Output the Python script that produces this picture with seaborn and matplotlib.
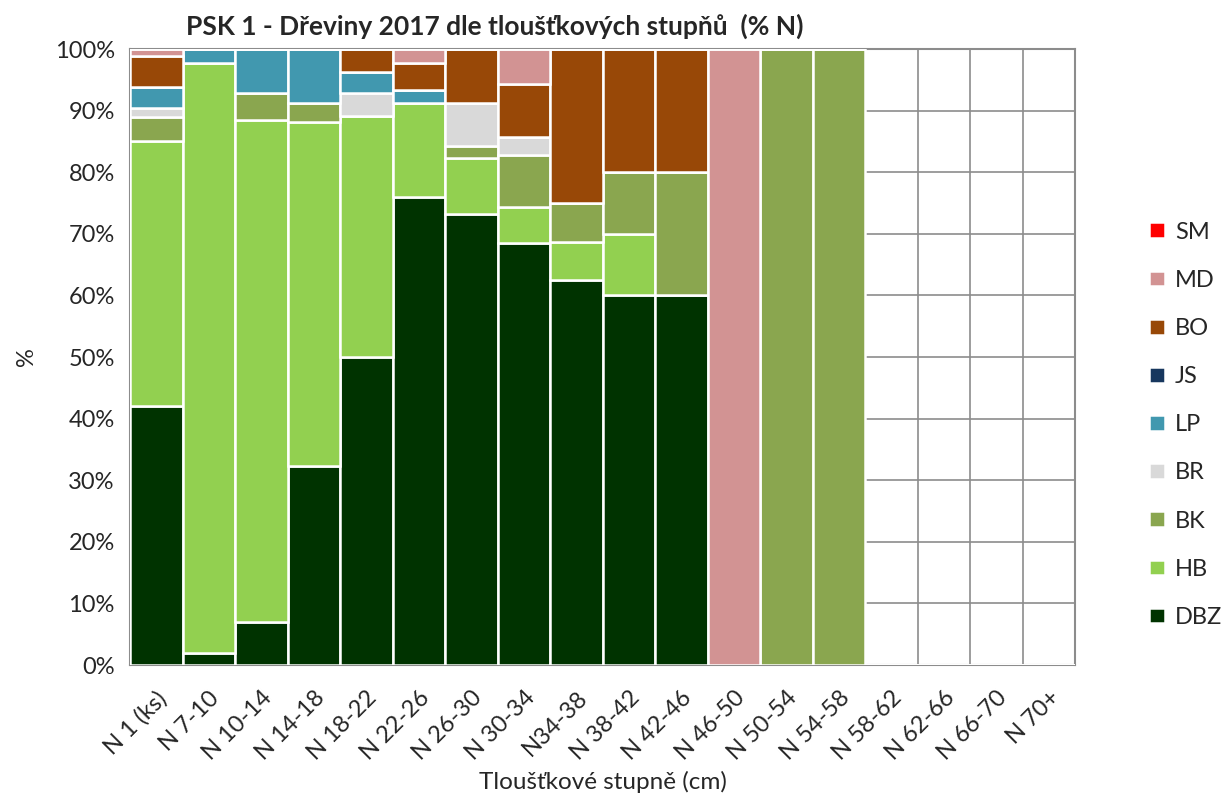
import numpy as np
import pandas as pd
import matplotlib.pyplot as plt
import seaborn as sns
from matplotlib.ticker import FixedLocator, FuncFormatter

# categories on x axis
stupne = ["N 1 (ks)", "N 7-10", "N 10-14", "N 14-18", "N 18-22", "N 22-26",
          "N 26-30", "N 30-34", "N34-38", "N 38-42", "N 42-46", "N 46-50",
          "N 50-54", "N 54-58", "N 58-62", "N 62-66", "N 66-70", "N 70+"]

# % share per species
DBZ = [42.0, 2.0, 7.0, 32.3, 50.0, 76.0, 73.2, 68.5, 62.5, 60.0, 60.0, 0, 0, 0, 0, 0, 0, 0]
HB = [43.0, 95.8, 81.5, 55.8, 39.1, 15.3, 9.1, 5.8, 6.25, 10.0, 0, 0, 0, 0, 0, 0, 0, 0]
BK = [4.0, 0, 4.4, 3.1, 0, 0, 2.0, 8.5, 6.25, 10.0, 20.0, 0, 100, 100, 0, 0, 0, 0]
BR = [1.5, 0, 0, 0, 3.8, 0, 6.9, 2.9, 0, 0, 0, 0, 0, 0, 0, 0, 0, 0]
LP = [3.4, 2.2, 7.1, 8.8, 3.4, 2.0, 0, 0, 0, 0, 0, 0, 0, 0, 0, 0, 0, 0]
JS = [0] * 18
BO = [5.0, 0, 0, 0, 3.7, 4.5, 8.8, 8.6, 25.0, 20.0, 20.0, 0, 0, 0, 0, 0, 0, 0]
MD = [1.1, 0, 0, 0, 0, 2.2, 0, 5.7, 0, 0, 0, 100, 0, 0, 0, 0, 0, 0]
SM = [0] * 18

druhy = ["SM", "MD", "BO", "JS", "LP", "BR", "BK", "HB", "DBZ"]
barvy = ["#FF0000", "#D29393", "#984807", "#17375E", "#4198AF",
         "#D9D9D9", "#8AA64F", "#92D050", "#003300"]
hodnoty = {"SM": SM, "MD": MD, "BO": BO, "JS": JS, "LP": LP,
           "BR": BR, "BK": BK, "HB": HB, "DBZ": DBZ}

rows = []
for d in druhy:
    for s, v in zip(stupne, hodnoty[d]):
        rows.append({"stupen": s, "druh": d, "pct": v})
df = pd.DataFrame(rows)

sns.set_style("white")
plt.rcParams["font.family"] = ["Lato", "DejaVu Sans"]

fig = plt.figure(figsize=(12.29, 7.97), dpi=100)
ax = fig.add_axes([0.1058, 0.1656, 0.7689, 0.7729])

sns.histplot(data=df, x="stupen", weights="pct", hue="druh", hue_order=druhy,
             palette=barvy, multiple="stack", discrete=True, shrink=1,
             edgecolor="white", linewidth=1.8, alpha=1, ax=ax, zorder=3)

ax.set_xlim(-0.5, len(stupne) - 0.5)
ax.set_ylim(0, 100)

# gridlines (horizontal every 10 %, vertical at category boundaries)
ax.yaxis.set_major_locator(FixedLocator(np.arange(0, 101, 10)))
ax.yaxis.set_major_formatter(FuncFormatter(lambda v, p: f"{v:.0f}%"))
ax.set_xticks(np.arange(len(stupne)))
ax.set_xticklabels(stupne, rotation=45, ha="right", rotation_mode="anchor")
ax.xaxis.set_minor_locator(FixedLocator(np.arange(-0.5, len(stupne), 1)))
ax.tick_params(axis="x", which="major", length=0, pad=16, labelsize=17)
ax.tick_params(axis="x", which="minor", length=7, width=1.5, color="#8c8c8c")
ax.tick_params(axis="y", length=7, width=1.5, color="#8c8c8c", labelsize=17, pad=4)
ax.grid(True, axis="y", color="#8c8c8c", linewidth=1.2, zorder=0)
ax.grid(True, axis="x", which="minor", color="#8c8c8c", linewidth=1.2, zorder=0)
ax.set_axisbelow(True)
for sp in ax.spines.values():
    sp.set_color("#8c8c8c")
    sp.set_linewidth(1.5)

ax.set_ylabel("%", fontsize=17, labelpad=13)
ax.set_xlabel("Tloušťkové stupně (cm)", fontsize=17.5, labelpad=5)
ax.set_title("PSK 1 - Dřeviny 2017 dle tloušťkových stupňů  (% N)",
             fontsize=19, fontweight="bold", pad=10, x=0.386)

# legend on the right
leg = ax.get_legend()
handles = leg.legend_handles
leg.remove()
ax.legend(handles, druhy, loc="center left", bbox_to_anchor=(1.056, 0.39),
          frameon=False, fontsize=17, handlelength=0.65, handleheight=0.65,
          handletextpad=0.45, labelspacing=1.15)

plt.savefig("out.png", dpi=100)
